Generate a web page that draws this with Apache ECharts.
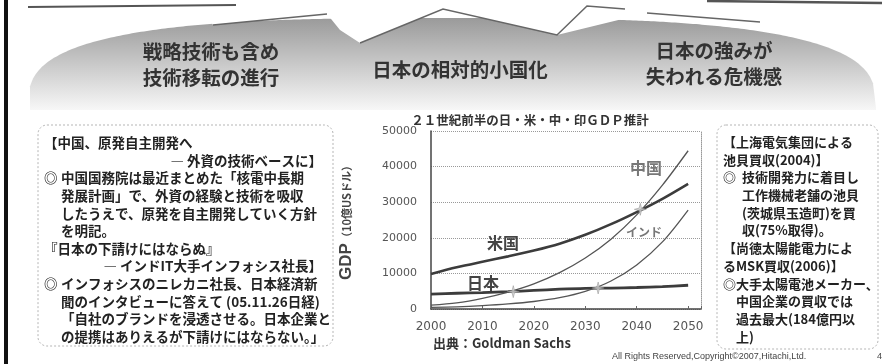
<!DOCTYPE html>
<html>
<head>
<meta charset="utf-8">
<script src="https://cdn.jsdelivr.net/npm/echarts@6/dist/echarts.min.js"></script>
<style>
  html, body { margin: 0; padding: 0; background: #fff; }
  #chart { width: 882px; height: 364px; }
</style>
</head>
<body>
<div id="chart"></div>
<script>
// 年（5年刻み）
var years = [2000, 2005, 2010, 2015, 2020, 2025, 2030, 2035, 2040, 2045, 2050];
// GDP推計（10億USドル）
var usGdp    = [9825, 11697, 13271, 14786, 16415, 18340, 20833, 23828, 27229, 30956, 35165];
var chinaGdp = [1078, 1724, 2998, 4754, 7070, 10213, 14312, 19605, 26439, 34799, 44453];
var indiaGdp = [469, 604, 929, 1411, 2104, 3174, 4935, 7854, 12367, 18847, 27803];
var japanGdp = [4176, 4427, 4601, 4858, 5221, 5567, 5810, 5882, 6039, 6297, 6673];
// 逆転ポイント
var crossYears  = [2016, 2032.5, 2040.7];
var crossValues = [4880, 5900, 28000];

var titleText  = '２１世紀前半の日・米・中・印ＧＤＰ推計';
var sourceText = '出典：Goldman Sachs';

var JP = '"Noto Sans CJK JP"';

function pairs(vals) {
  return years.map(function (y, i) { return [y, vals[i]]; });
}

// テキスト部品
function txt(s, x, y, size, align, color, weight) {
  return {
    type: 'text',
    z: 10,
    style: {
      text: s, x: x, y: y,
      font: (weight || 'bold') + ' ' + size + 'px ' + JP,
      fill: color || '#222',
      textAlign: align || 'left',
      textVerticalAlign: 'middle'
    }
  };
}

// 上部の山（グレーのグラデーション）
var hillPts = [];
for (var x = 30; x <= 876; x += 3) {
  var r = Math.min(1, Math.abs(x - 452) / 424);
  hillPts.push([x, 108 - 90 * Math.pow(1 - r * r * r, 1 / 3)]);
}
hillPts.push([876, 110], [30, 110]);

var graphics = [
  { type: 'rect', z: 1, shape: { x: 4, y: 0, width: 4, height: 364 }, style: { fill: '#111' } },
  {
    type: 'polygon', z: 1, shape: { points: hillPts },
    style: {
      fill: new echarts.graphic.LinearGradient(0, 0, 0, 1, [
        { offset: 0, color: '#9a9a9a' },
        { offset: 0.6, color: '#d2d2d2' },
        { offset: 1, color: '#f7f7f7' }
      ])
    }
  },
  // 白い矢印（ジグザグ）
  {
    type: 'polygon', z: 2,
    shape: { points: [[200, 0], [213, 25], [327, 14], [340, 30], [360, 43], [443, 9], [557, 35], [647, 13], [760, 22], [773, 27], [800, 0]] },
    style: { fill: '#fff' }
  },
  { type: 'polyline', z: 3, shape: { points: [[28, 7], [236, 5]] }, style: { stroke: '#555', lineWidth: 2 } },
  { type: 'polyline', z: 3, shape: { points: [[213, 25], [327, 14]] }, style: { stroke: '#666', lineWidth: 1.5 } },
  { type: 'polyline', z: 3, shape: { points: [[360, 43], [443, 9], [557, 35], [587, 6], [625, 9]] }, style: { stroke: '#666', lineWidth: 1.5 } },
  { type: 'polyline', z: 3, shape: { points: [[647, 13], [760, 22]] }, style: { stroke: '#666', lineWidth: 1.5 } },
  { type: 'polyline', z: 3, shape: { points: [[707, 1], [882, 3]] }, style: { stroke: '#555', lineWidth: 2.5 } },

  txt('戦略技術も含め', 211, 52, 19.5, 'center', '#333'),
  txt('技術移転の進行', 211, 78, 19.5, 'center', '#333'),
  txt('日本の相対的小国化', 460, 70, 19.5, 'center', '#333'),
  txt('日本の強みが', 714, 51, 19.5, 'center', '#333'),
  txt('失われる危機感', 714, 77, 19.5, 'center', '#333'),

  // 左の枠
  { type: 'rect', z: 1, shape: { x: 38, y: 125, width: 295, height: 221, r: 9 },
    style: { fill: '#fff', stroke: '#b5b5b5', lineWidth: 1, lineDash: [2, 2] } },
  // 右の枠
  { type: 'rect', z: 1, shape: { x: 717, y: 125, width: 161, height: 224, r: 9 },
    style: { fill: '#fff', stroke: '#b5b5b5', lineWidth: 1, lineDash: [2, 2] } },

  // グラフ題名・出典
  txt(titleText, 530, 120, 12.5, 'center', '#333'),
  txt(sourceText, 433, 343, 13, 'left', '#333'),

  // 系列ラベル
  txt('米国', 503, 243, 16, 'center', '#444'),
  txt('日本', 483, 283, 16, 'center', '#444'),
  txt('中国', 646, 168, 16, 'center', '#777'),
  txt('インド', 644, 232, 12, 'center', '#777'),

  // フッター
  { type: 'text', z: 10, style: { text: 'All Rights Reserved,Copyright©2007,Hitachi,Ltd.', x: 612, y: 357,
    font: '9px "Liberation Sans"', fill: '#444', textVerticalAlign: 'middle' } },
  { type: 'text', z: 10, style: { text: '4', x: 877, y: 357,
    font: '9px "Liberation Sans"', fill: '#444', textVerticalAlign: 'middle' } }
];

// 左枠の本文
var leftLines = [
  ['【中国、原発自主開発へ', 44, 'left'],
  ['― 外資の技術ベースに】', 322, 'right'],
  ['◎', 44, 'left'],
  ['中国国務院は最近まとめた「核電中長期', 61, 'left'],
  ['発展計画」で、外資の経験と技術を吸収', 61, 'left'],
  ['したうえで、原発を自主開発していく方針', 61, 'left'],
  ['を明記。', 61, 'left'],
  ['『日本の下請けにはならぬ』', 44, 'left'],
  ['― インドIT大手インフォシス社長】', 322, 'right'],
  ['◎', 44, 'left'],
  ['インフォシスのニレカニ社長、日本経済新', 61, 'left'],
  ['聞のインタビューに答えて (05.11.26日経)', 61, 'left'],
  ['「自社のブランドを浸透させる。日本企業と', 61, 'left'],
  ['の提携はありえるが下請けにはならない。」', 61, 'left']
];
var leftRow = [0, 1, 2, 2, 3, 4, 5, 6, 7, 8, 8, 9, 10, 11];
leftLines.forEach(function (l, i) {
  graphics.push(txt(l[0], l[1], 143 + leftRow[i] * 17.6, 13.5, l[2], '#222'));
});

// 右枠の本文
var rightLines = [
  ['【上海電気集団による', 723],
  ['池貝買収(2004)】', 723],
  ['◎', 723],
  ['技術開発力に着目し', 742],
  ['工作機械老舗の池貝', 742],
  ['(茨城県玉造町)を買', 742],
  ['収(75%取得)。', 742],
  ['【尚徳太陽能電力によ', 723],
  ['るMSK買収(2006)】', 723],
  ['◎大手太陽電池メーカー、', 723],
  ['中国企業の買収では', 736],
  ['過去最大(184億円以', 736],
  ['上)', 736]
];
var rightRow = [0, 1, 2, 2, 3, 4, 5, 6, 7, 8, 9, 10, 11];
rightLines.forEach(function (l, i) {
  graphics.push(txt(l[0], l[1], 142 + rightRow[i] * 17.7, 13, 'left', '#222'));
});

var myChart = echarts.init(document.getElementById('chart'));

var option = {
  animation: false,
  backgroundColor: '#fff',
  grid: { left: 431, right: 181, top: 131, bottom: 55 },
  xAxis: {
    type: 'value',
    min: 2000,
    max: 2052.5,
    interval: 10,
    axisLine: { lineStyle: { color: '#444', width: 1.5 } },
    axisTick: { inside: true, length: 3, lineStyle: { color: '#666' } },
    splitLine: { show: false },
    axisLabel: {
      margin: 12,
      fontSize: 12,
      fontFamily: 'DejaVu Sans',
      color: '#555',
      formatter: function (v) { return v % 10 === 0 ? String(v) : ''; }
    }
  },
  yAxis: [
    {
      type: 'value',
      min: 0,
      max: 50000,
      interval: 10000,
      axisLine: { show: true, lineStyle: { color: '#444', width: 1.5 } },
      axisTick: { show: false },
      splitLine: { lineStyle: { type: 'dotted', color: '#999' } },
      axisLabel: {
        margin: 14, fontSize: 11, fontFamily: 'DejaVu Sans', color: '#555',
        formatter: function (v) { return String(v); }
      },
      name: '{a|GDP}{b|（10億USドル）}',
      nameLocation: 'middle',
      nameGap: 76,
      nameRotate: 90,
      nameTextStyle: {
        rich: {
          a: { fontSize: 17, fontWeight: 'bold', fontFamily: 'Liberation Sans', color: '#444' },
          b: { fontSize: 11, fontWeight: 'bold', fontFamily: 'Noto Sans CJK JP', color: '#444' }
        }
      }
    },
    {
      type: 'value',
      position: 'right',
      min: 0,
      max: 50000,
      interval: 10000,
      axisLine: { show: true, lineStyle: { color: '#999', type: 'dotted' } },
      axisTick: { show: false },
      axisLabel: { show: false },
      splitLine: { show: false }
    }
  ],
  series: [
    { name: '米国', type: 'line', data: pairs(usGdp), smooth: 0.3, showSymbol: false,
      lineStyle: { color: '#3c3c3c', width: 2.6 } },
    { name: '日本', type: 'line', data: pairs(japanGdp), smooth: 0.3, showSymbol: false,
      lineStyle: { color: '#3c3c3c', width: 2.8 } },
    { name: '中国', type: 'line', data: pairs(chinaGdp), smooth: 0.3, showSymbol: false,
      lineStyle: { color: '#555', width: 1.3 } },
    { name: 'インド', type: 'line', data: pairs(indiaGdp), smooth: 0.3, showSymbol: false,
      lineStyle: { color: '#555', width: 1.3 } },
    { name: 'cross', type: 'scatter', z: 5,
      data: crossYears.map(function (y, i) { return [y, crossValues[i]]; }),
      symbol: 'path://M0,-10 L2,-2 L10,0 L2,2 L0,10 L-2,2 L-10,0 L-2,-2 Z',
      symbolSize: 12,
      itemStyle: { color: '#d0d0d0', borderColor: '#888', borderWidth: 0.6 } }
  ],
  graphic: { elements: graphics }
};

if (option && typeof option === "object") {
  myChart.setOption(option, true);
}
</script>
</body>
</html>
